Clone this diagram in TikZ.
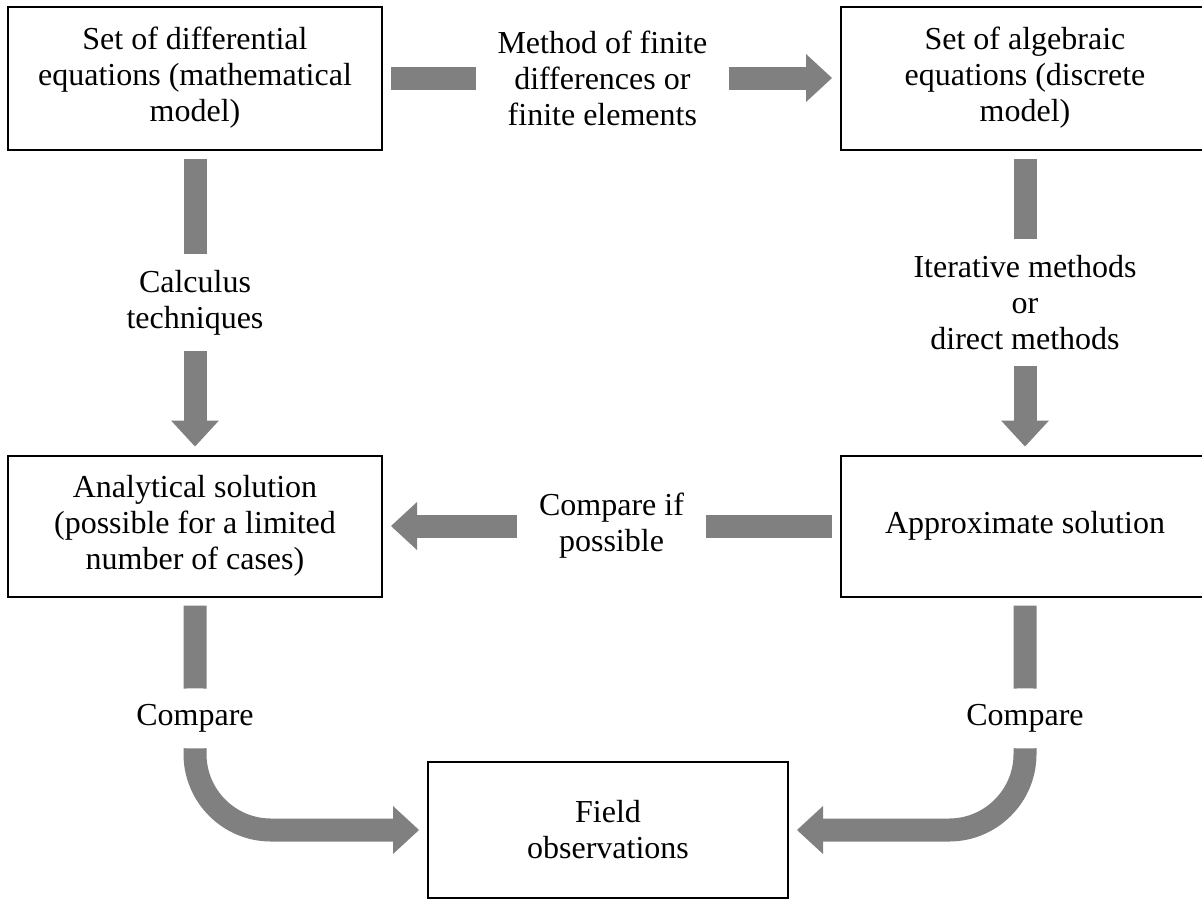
\documentclass[tikz,border=0pt]{standalone}
\usepackage{fontspec}
\setmainfont{Liberation Serif}
\usetikzlibrary{arrows.meta}
\tikzset{>=latex}

\begin{document}
\begin{tikzpicture}[x=0.5pt, y=-0.5pt,
	model/.style={rectangle, draw=black, line width=1pt, align=center, inner sep=0pt, font=\fontsize{16pt}{18pt}\selectfont},
	flow/.style={draw=black!50, line width=11.5pt, -{Triangle[length=13pt, width=24pt, line width'=0pt]}, shorten <=4pt, shorten >=4pt},
	via/.style={fill=white, align=center, inner xsep=11pt, inner ysep=8pt, font=\fontsize{16pt}{18pt}\selectfont}]
		\clip (0,0) rectangle (1202,900);
		\node[model, minimum width=187pt, minimum height=71.5pt] (diffeq) at (195,78) {Set of differential\\equations (mathematical\\model)};
		\node[model, minimum width=184pt, minimum height=71.5pt] (algeq) at (1025,78) {Set of algebraic\\equations (discrete\\model)};
		\node[model, minimum width=187pt, minimum height=70.5pt] (analytic) at (195,526) {Analytical solution\\(possible for a limited\\number of cases)};
		\node[model, minimum width=184pt, minimum height=70.5pt] (approx) at (1025,526) {Approximate solution};
		\node[model, minimum width=180pt, minimum height=68pt] (field) at (608,830) {Field\\observations};

		\path
			(diffeq) edge[flow] node[via, pos=0.48] {Method of finite\\differences or\\finite elements} (algeq)
			(diffeq) edge[flow] node[via] {Calculus\\techniques} (analytic)
			(algeq) edge[flow] node[via] {Iterative methods\\or\\direct methods} (approx)
			(approx) edge[flow] node[via] {Compare if\\possible} (analytic);

		\draw[flow, rounded corners=38pt] (analytic.south) |- node[via, pos=0.26] {Compare} (field.west);
		\draw[flow, rounded corners=38pt] (approx.south) |- node[via, pos=0.26] {Compare} (field.east);
	\end{tikzpicture}
\end{document}
